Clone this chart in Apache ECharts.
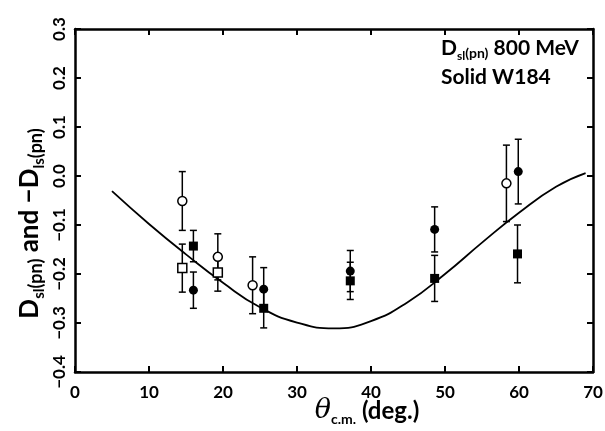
<!DOCTYPE html>
<html><head><meta charset="utf-8">
<script src="https://cdn.jsdelivr.net/npm/echarts@6/dist/echarts.min.js"></script>
<style>html,body{margin:0;padding:0;background:#fff}#c{width:605px;height:431px}</style>
</head><body><div id="c"></div>
<script>
// Axis ranges / ticks
const xMin = 0, xMax = 70, xStep = 10;
const yMin = -0.4, yMax = 0.3, yStep = 0.1;

// Data points: [theta, value, error]
const openCircles   = [[14.5, -0.051, 0.060], [19.3, -0.165, 0.047], [24.0, -0.223, 0.058], [58.3, -0.015, 0.078]];
const filledCircles = [[16.0, -0.233, 0.037], [25.5, -0.231, 0.044], [37.2, -0.194, 0.042], [48.6, -0.109, 0.046], [59.9, 0.009, 0.066]];
const openSquares   = [[14.5, -0.188, 0.049], [19.3, -0.197, 0.038]];
const filledSquares = [[16.0, -0.143, 0.032], [25.5, -0.270, 0.040], [37.2, -0.214, 0.038], [48.6, -0.209, 0.047], [59.8, -0.159, 0.059]];

// Theory curve
const curveX = [5, 10, 15, 20, 25, 30, 35, 40, 45, 50, 55, 60, 65, 69];
const curveY = [-0.031, -0.098, -0.160, -0.218, -0.268, -0.299, -0.311, -0.296, -0.257, -0.200, -0.136, -0.075, -0.022, 0.006];

const FONT = 'Lato';

const chart = echarts.init(document.getElementById('c'), null, {renderer: 'canvas'});

function pts(arr) { return arr.map(d => [d[0], d[1]]); }
function errs(arr) { return arr.map(d => [d[0], d[1] - d[2], d[1] + d[2]]); }

function errItem(params, api) {
  const x = api.value(0), lo = api.value(1), hi = api.value(2);
  const a = api.coord([x, lo]), b = api.coord([x, hi]);
  const w = 3.5;
  const st = {stroke: '#000', lineWidth: 1.5, fill: null};
  return {type: 'group', children: [
    {type: 'line', shape: {x1: a[0], y1: a[1], x2: b[0], y2: b[1]}, style: st},
    {type: 'line', shape: {x1: a[0] - w, y1: a[1], x2: a[0] + w, y2: a[1]}, style: st},
    {type: 'line', shape: {x1: b[0] - w, y1: b[1], x2: b[0] + w, y2: b[1]}, style: st}
  ]};
}

function errSeries(arr) {
  return {type: 'custom', renderItem: errItem, data: errs(arr), encode: {x: 0, y: [1, 2]}, z: 2, silent: true};
}

const axisLine = {show: true, onZero: false, lineStyle: {color: '#000', width: 2.5}};
const axisTick = {show: true, inside: true, length: 6, lineStyle: {color: '#000', width: 2}};

const subRich = (main, sub, par, lh, colorKey, endPad) => {
  const c = {}; c[colorKey] = '#000';
  return {
    d: Object.assign({fontFamily: FONT, fontWeight: 'bold', fontSize: main, verticalAlign: 'middle', lineHeight: lh}, c),
    s: Object.assign({fontFamily: FONT, fontWeight: 'bold', fontSize: sub, verticalAlign: 'bottom'}, c),
    p: Object.assign({fontFamily: FONT, fontWeight: 'bold', fontSize: par, verticalAlign: 'bottom', padding: [0, 0, 2, 0]}, c),
    e: Object.assign({fontFamily: FONT, fontWeight: 'bold', fontSize: par, verticalAlign: 'bottom', padding: [0, endPad || 0, 2, 0]}, c)
  };
};

const option = {
  animation: false,
  backgroundColor: '#fff',
  grid: {left: 75, right: 12, top: 29, bottom: 59, outerBoundsMode: 'none', containLabel: false},
  xAxis: [
    {type: 'value', min: xMin, max: xMax, interval: xStep, position: 'bottom',
     axisLine, axisTick, splitLine: {show: false},
     axisLabel: {color: '#000', fontFamily: FONT, fontWeight: 'bold', fontSize: 17, margin: 12},
     name: '{t|θ}{s|c.m.}{n| (deg.)}', nameLocation: 'middle', nameGap: 24, nameMoveOverlap: false,
     nameTextStyle: {rich: {
       t: {fontFamily: 'DejaVu Serif', fontStyle: 'italic', fontSize: 27, color: '#000', verticalAlign: 'middle', lineHeight: 30, padding: [0, 0, 0, 66]},
       s: {fontFamily: FONT, fontWeight: 'bold', fontSize: 14, color: '#000', verticalAlign: 'bottom'},
       n: {fontFamily: FONT, fontWeight: 'bold', fontSize: 24, color: '#000', verticalAlign: 'middle'}
     }}},
    {type: 'value', min: xMin, max: xMax, interval: xStep, position: 'top',
     axisLine, axisTick, axisLabel: {show: false}, splitLine: {show: false}}
  ],
  yAxis: [
    {type: 'value', min: yMin, max: yMax, interval: yStep, position: 'left',
     axisLine, axisTick, splitLine: {show: false},
     axisLabel: {color: '#000', fontFamily: FONT, fontWeight: 'bold', fontSize: 17, rotate: 90, margin: 7,
       formatter: v => (v < 0 ? '\u2212' : '') + Math.abs(v).toFixed(1)},
     name: '{d|D}{s|sl}{p|(pn)}{d| and \u2212D}{s|ls}{e|(pn)}', nameLocation: 'middle', nameGap: 28, nameRotate: 90,
     nameMoveOverlap: false,
     nameTextStyle: {rich: subRich(26, 15, 18, 34, 'color', 46)}},
    {type: 'value', min: yMin, max: yMax, interval: yStep, position: 'right',
     axisLine, axisTick, axisLabel: {show: false}, splitLine: {show: false}}
  ],
  graphic: [
    {type: 'text', left: 441, top: 38, z: 10,
     style: {text: '{d|D}{s|sl}{p|(pn)}{d| 800 MeV}', rich: subRich(21, 12, 14, 28, 'fill', 0)}},
    {type: 'text', left: 441, top: 67, z: 10,
     style: {text: 'Solid W184', fontFamily: FONT, fontWeight: 'bold', fontSize: 21, fill: '#000'}}
  ],
  series: [
    {type: 'line', data: curveX.map((x, i) => [x, curveY[i]]), smooth: true, showSymbol: false, symbol: 'none',
     lineStyle: {color: '#000', width: 1.8}, z: 1, silent: true},
    errSeries(openCircles), errSeries(filledCircles), errSeries(openSquares), errSeries(filledSquares),
    {type: 'scatter', data: pts(openCircles), symbol: 'circle', symbolSize: 9, z: 5,
     itemStyle: {color: '#fff', borderColor: '#000', borderWidth: 1.5, opacity: 1}},
    {type: 'scatter', data: pts(filledCircles), symbol: 'circle', symbolSize: 9, z: 5,
     itemStyle: {color: '#000', opacity: 1}},
    {type: 'scatter', data: pts(openSquares), symbol: 'rect', symbolSize: 9, z: 5,
     itemStyle: {color: '#fff', borderColor: '#000', borderWidth: 1.5, opacity: 1}},
    {type: 'scatter', data: pts(filledSquares), symbol: 'rect', symbolSize: 9, z: 5,
     itemStyle: {color: '#000', opacity: 1}}
  ]
};
chart.setOption(option);
</script>
</body></html>
